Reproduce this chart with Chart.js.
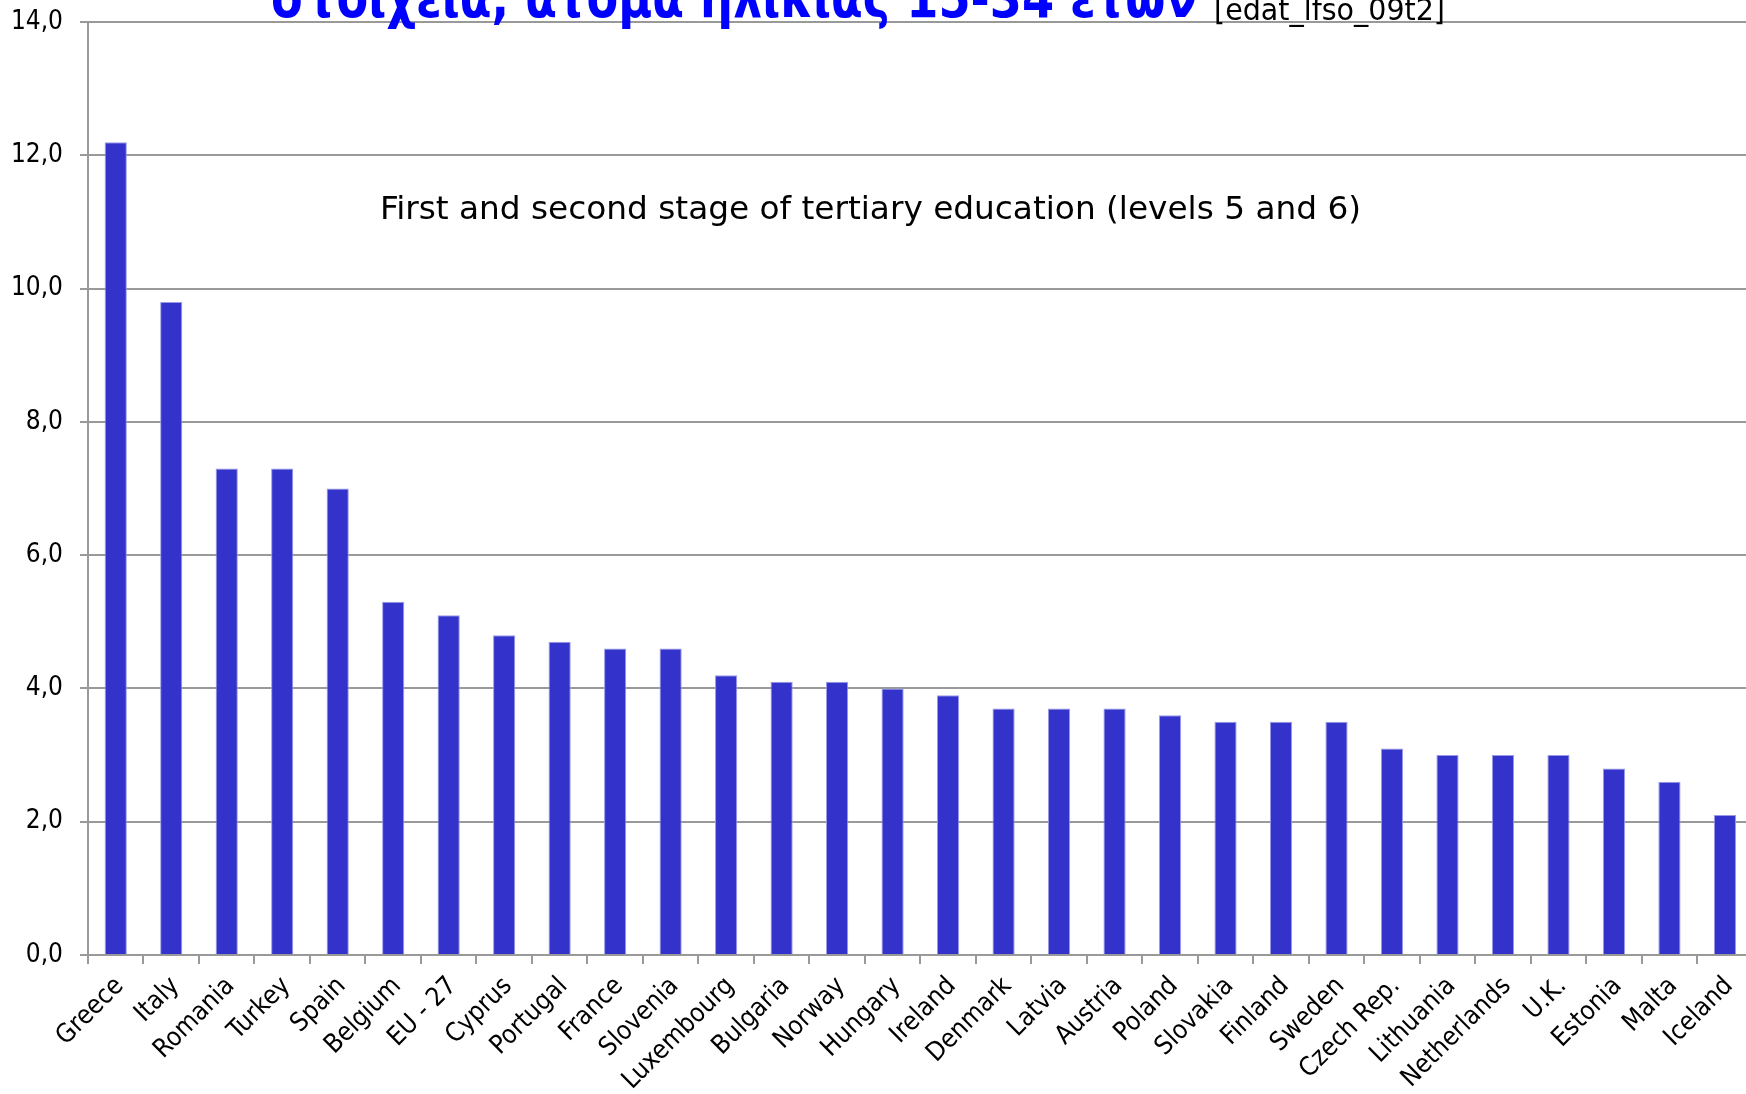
<!DOCTYPE html>
<html>
<head>
<meta charset="utf-8">
<script src="https://cdn.jsdelivr.net/npm/chart.js@4.4.1/dist/chart.umd.min.js"></script>
<style>
  html, body { margin: 0; padding: 0; background: #fff; overflow: hidden; }
  #wrap { position: relative; width: 1754px; height: 1094px; }
</style>
</head>
<body>
<div id="wrap"><canvas id="chart"></canvas></div>
<script>
// χώρες και ποσοστά (%)
const countries = ['Greece', 'Italy', 'Romania', 'Turkey', 'Spain', 'Belgium', 'EU - 27', 'Cyprus',
    'Portugal', 'France', 'Slovenia', 'Luxembourg', 'Bulgaria', 'Norway', 'Hungary', 'Ireland',
    'Denmark', 'Latvia', 'Austria', 'Poland', 'Slovakia', 'Finland', 'Sweden', 'Czech Rep.',
    'Lithuania', 'Netherlands', 'U.K.', 'Estonia', 'Malta', 'Iceland'];
const values = [12.2, 9.8, 7.3, 7.3, 7.0, 5.3, 5.1, 4.8, 4.7, 4.6, 4.6, 4.2, 4.1, 4.1, 4.0, 3.9,
    3.7, 3.7, 3.7, 3.6, 3.5, 3.5, 3.5, 3.1, 3.0, 3.0, 3.0, 2.8, 2.6, 2.1];
const yTicks = [0, 2, 4, 6, 8, 10, 12, 14];

const titleText = 'στοιχεία, άτομα ηλικίας 15-34 ετών';
const sourceText = '[edat_lfso_09t2]';
const noteText = 'First and second stage of tertiary education (levels 5 and 6)';

const gridColor = '#999999';
const labelFont = '"DejaVu Sans Condensed", "DejaVu Sans"';

// γράφει κείμενο προσαρμοσμένο σε συγκεκριμένο πλάτος
function fitText(ctx, text, x, y, width) {
    const w = ctx.measureText(text).width;
    ctx.save();
    ctx.translate(x, y);
    ctx.scale(width / w, 1);
    ctx.fillText(text, 0, 0);
    ctx.restore();
}

const textPlugin = {
    id: 'texts',
    afterDraw(chart) {
        const ctx = chart.ctx;
        ctx.save();
        ctx.textAlign = 'left';
        ctx.textBaseline = 'alphabetic';
        ctx.fillStyle = '#0000ff';
        ctx.font = 'bold 56px ' + labelFont;
        fitText(ctx, titleText, 271, 17, 926);
        ctx.fillStyle = '#000';
        ctx.font = '31px ' + labelFont;
        fitText(ctx, sourceText, 1214, 20, 231);
        ctx.font = '32px ' + labelFont;
        fitText(ctx, noteText, 380, 219, 981);
        ctx.restore();
    }
};

new Chart(document.getElementById('chart'), {
    type: 'bar',
    data: {
        labels: countries,
        datasets: [{
            data: values,
            backgroundColor: '#3333cc',
            borderColor: '#9a9ae8',
            borderWidth: 1,
            barPercentage: 0.4,
            categoryPercentage: 1.0
        }]
    },
    options: {
        responsive: true,
        maintainAspectRatio: false,
        animation: false,
        layout: { padding: { top: 18, left: 0, right: 0, bottom: 0 } },
        plugins: {
            legend: { display: false },
            tooltip: { enabled: false },
            title: { display: false }
        },
        scales: {
            x: {
                grid: { drawOnChartArea: false, drawTicks: true, tickLength: 9, color: gridColor, lineWidth: 2 },
                border: { display: true, color: gridColor, width: 2 },
                ticks: {
                    autoSkip: false,
                    minRotation: 45,
                    maxRotation: 45,
                    color: '#000',
                    padding: 7,
                    labelOffset: 4,
                    font: { family: labelFont, size: 26 }
                },
                afterFit(scale) { scale.height = 139; }
            },
            y: {
                min: 0,
                max: 14,
                afterBuildTicks(scale) { scale.ticks = yTicks.map(v => ({ value: v })); },
                grid: { color: gridColor, lineWidth: 2, tickLength: 8 },
                border: { display: true, color: gridColor, width: 2 },
                ticks: {
                    color: '#000',
                    padding: 17,
                    font: { family: labelFont, size: 26, lineHeight: 0.4 },
                    callback: v => v.toFixed(1).replace('.', ',')
                },
                afterFit(scale) { scale.width = 88; }
            }
        }
    },
    plugins: [textPlugin]
});
</script>
</body>
</html>
